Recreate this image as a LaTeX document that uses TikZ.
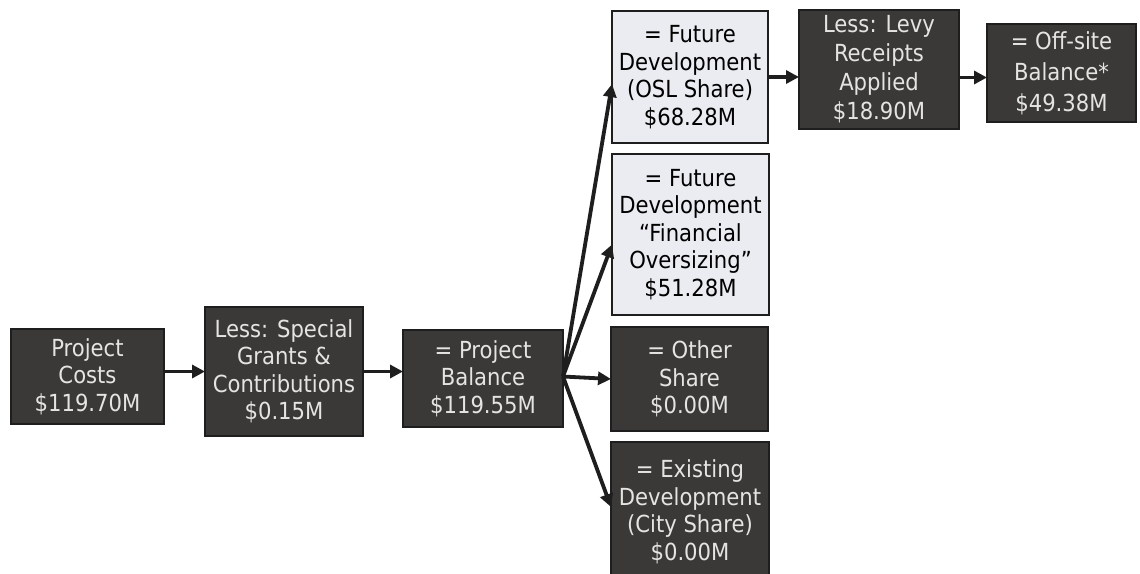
\documentclass[tikz,border=0pt]{standalone}
\usepackage{fontspec}
\setmainfont{DejaVu Sans Condensed}
\usetikzlibrary{arrows.meta,calc}
\definecolor{boxdark}{HTML}{3A3937}
\definecolor{boxlight}{HTML}{EAECF1}
\definecolor{edgedark}{HTML}{1E1E1E}
\definecolor{textlight}{HTML}{E4E4E2}
\begin{document}
\begin{tikzpicture}[x=1pt,y=-1pt,
  every node/.style={inner sep=0pt,outer sep=0pt},
  flowbox/.style={draw=edgedark,line width=1.5pt,align=center,
    font=\fontsize{23.5}{27.5}\selectfont},
  darkbox/.style={flowbox,fill=boxdark,text=textlight},
  lightbox/.style={flowbox,fill=boxlight,text=black},
  flowarrow/.style={draw=edgedark,line width=3.8pt,
    -{Triangle[length=13pt,width=13pt]}}]
\useasboundingbox (0,0) rectangle (1140,573);
\fill[white] (0,0) rectangle (1140,573);
\begin{scope}
\clip (0,0) rectangle (1140,573);
% main chain
\node[darkbox,minimum width=153pt,minimum height=95pt] (b1) at (87.5,376.5)
  {Project\\Costs\\\$119.70M};
\node[darkbox,minimum width=158pt,minimum height=129pt] (b2) at (284,371.5)
  {Less: Special\\Grants \&\\Contributions\\\$0.15M};
\node[darkbox,minimum width=160pt,minimum height=97pt] (b3) at (483,378.5)
  {= Project\\Balance\\\$119.55M};
% shares
\node[lightbox,minimum width=156pt,minimum height=132pt] (b4) at (690,77)
  {= Future\\Development\\(OSL Share)\\\$68.28M};
\node[lightbox,minimum width=157pt,minimum height=161pt] (b5) at (690.5,234.5)
  {= Future\\Development\\“Financial\\Oversizing”\\\$51.28M};
\node[darkbox,minimum width=157pt,minimum height=104pt] (b6) at (689.5,379)
  {= Other\\Share\\\$0.00M};
\node[darkbox,minimum width=158pt,minimum height=140pt] (b7) at (690,512)
  {= Existing\\Development\\(City Share)\\\$0.00M};
% off-site chain
\node[darkbox,minimum width=160pt,minimum height=119pt,
  font=\fontsize{23.5}{29}\selectfont] (b8) at (879,69.5)
  {Less: Levy\\Receipts\\Applied\\\$18.90M};
\node[darkbox,minimum width=149pt,minimum height=98pt,
  font=\fontsize{23.5}{31}\selectfont] (b9) at (1061.5,73)
  {= Off-site\\Balance*\\\$49.38M};
% connectors
\draw[flowarrow] (b1.east |- b2) -- (b2.west);
\draw[flowarrow] (b2.east) -- (b3.west |- b2);
\coordinate (fan) at ($(b3.east)+(0,-2)$);
\draw[flowarrow] (fan) -- ($(b4.west)+(0,7)$);
\draw[flowarrow] (fan) -- ($(b5.west)+(0,10)$);
\draw[flowarrow] (fan) -- (b6.west);
\draw[flowarrow] (fan) -- ($(b7.west)+(0,-5)$);
\draw[flowarrow] (b4.east) -- (b8.west |- b4.east);
\draw[flowarrow] ($(b8.east)+(0,8)$) -- ($(b9.west)+(0,4.5)$);
\end{scope}
\end{tikzpicture}
\end{document}
